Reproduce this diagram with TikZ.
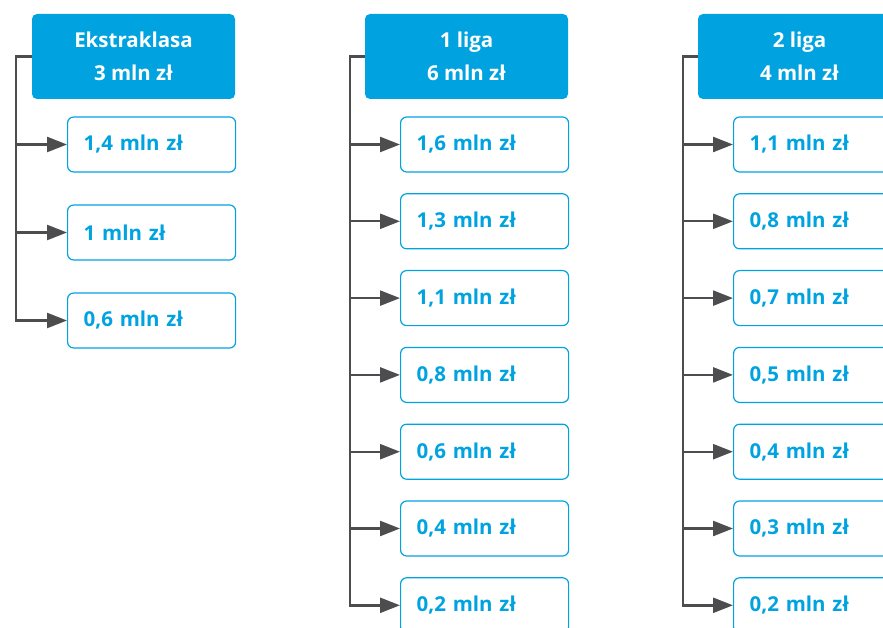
\documentclass[tikz,border=0pt]{standalone}
\usepackage{fontspec}
\setmainfont{Open Sans}
\usetikzlibrary{arrows.meta}
\definecolor{lblue}{RGB}{0,163,224}
\definecolor{lgray}{RGB}{77,77,79}

\begin{document}
\begin{tikzpicture}[x=1pt,y=-1pt]
	\tikzset{
		league/.style={fill=lblue,text=white,rounded corners=5pt,minimum width=203pt,minimum height=85pt,inner sep=0pt,align=center,font=\bfseries\fontsize{20.5}{33}\selectfont},
		prize/.style={draw=lblue,line width=1.2pt,rounded corners=6pt,anchor=west,minimum height=55pt,text width=136pt,inner xsep=16pt,inner ysep=0pt,align=left,text=lblue,font=\bfseries\fontsize{20.5}{24}\selectfont},
		feed/.style={draw=lgray,line width=2.4pt,-{Triangle[length=20pt,width=15pt]}}
	}
	\useasboundingbox (0,0) rectangle (883,628);
	\clip (0,0) rectangle (883,628);
	% Ekstraklasa
	\node[league] (e) at (133.5,56.5) {Ekstraklasa\\3 mln zł};
	\coordinate (se) at (16,56.5);
	\foreach \v [count=\i] in {{1,4},{1},{0,6}}
		\node[prize] (e\i) at (67,56.5+88*\i) {\v\ mln zł};
	\draw[feed] (e.west) -- (se) |- (e3.west);
	\foreach \i in {1,2}
		\draw[feed] (se |- e\i.west) -- (e\i.west);
	% 1 liga
	\node[league] (a) at (466.5,56.5) {1 liga\\6 mln zł};
	\coordinate (sa) at (350,56.5);
	\foreach \v [count=\i] in {{1,6},{1,3},{1,1},{0,8},{0,6},{0,4},{0,2}}
		\node[prize] (a\i) at (400,67.7+76.8*\i) {\v\ mln zł};
	\draw[feed] (a.west) -- (sa) |- (a7.west);
	\foreach \i in {1,...,6}
		\draw[feed] (sa |- a\i.west) -- (a\i.west);
	% 2 liga
	\node[league] (b) at (799.5,56.5) {2 liga\\4 mln zł};
	\coordinate (sb) at (683,56.5);
	\foreach \v [count=\i] in {{1,1},{0,8},{0,7},{0,5},{0,4},{0,3},{0,2}}
		\node[prize] (b\i) at (733,67.7+76.8*\i) {\v\ mln zł};
	\draw[feed] (b.west) -- (sb) |- (b7.west);
	\foreach \i in {1,...,6}
		\draw[feed] (sb |- b\i.west) -- (b\i.west);
\end{tikzpicture}
\end{document}
